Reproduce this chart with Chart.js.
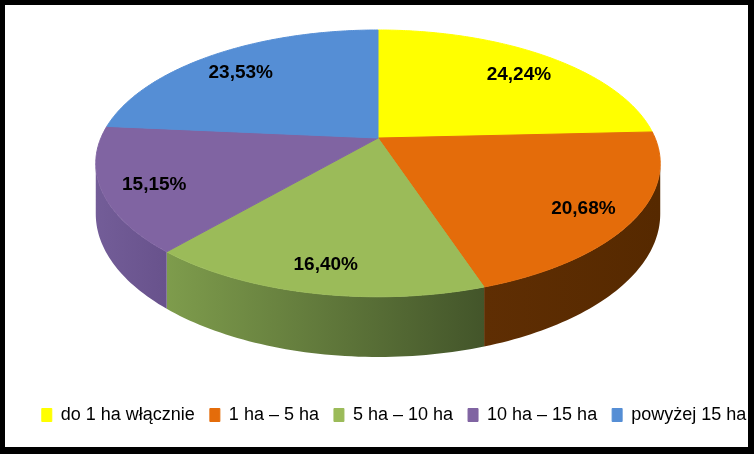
<!DOCTYPE html>
<html>
<head>
<meta charset="utf-8">
<script src="https://cdn.jsdelivr.net/npm/chart.js@4.4.1/dist/chart.umd.min.js"></script>
<style>
  html, body { margin: 0; padding: 0; background: #000; }
  #wrap { width: 754px; height: 454px; }
</style>
</head>
<body>
<div id="wrap"><canvas id="myChart" width="754" height="454"></canvas></div>
<script>
// data
const categories = ['do 1 ha włącznie', '1 ha – 5 ha', '5 ha – 10 ha', '10 ha – 15 ha', 'powyżej 15 ha'];
const shares = [24.24, 20.68, 16.40, 15.15, 23.53];

const topColors = ['#FFFF00', '#E46C0A', '#9BBB59', '#8064A2', '#558ED5'];
// side wall shading, light (left) -> dark (right)
const sideColors = [
    ['#A6A600', '#7F7F00'],
    ['#5F2E03', '#562900'],
    ['#7E9C4C', '#43552A'],
    ['#735D98', '#68528C'],
    ['#3F6BA3', '#30578A']
];

const FONT = '"Liberation Sans", Arial, sans-serif';
const TILT = 0.19; // perspective strength

const fmt = v => v.toFixed(2).replace('.', ',') + '%';

// maps the library's flat circle onto a tilted disc seen in perspective
function makeProjection(chart) {
    const a0 = chart.getDatasetMeta(0).data[0];
    const A = chart.width * 0.3675;
    const B = A * 0.464;
    const vx = chart.width / 2 + 1;
    const vy = chart.chartArea.top + B / (1 + TILT);
    const depth = A * 0.176;
    const R = a0.outerRadius;
    const P = (x, y) => {
        const u = (x - a0.x) / R, w = (y - a0.y) / R;
        const s = 1 / (1 - TILT * w);
        return [vx + A * u * s, vy + B * w * s];
    };
    const drop = a => depth / (1 - TILT * Math.sin(a));
    return { P, drop, a0, R };
}

// pieces of [s, e] on the visible front of the rim
function frontParts(s, e) {
    const parts = [];
    const f1 = Math.asin(TILT), f2 = Math.PI - Math.asin(TILT);
    for (const k of [-2 * Math.PI, 0, 2 * Math.PI]) {
        const lo = Math.max(s, k + f1), hi = Math.min(e, k + f2);
        if (hi > lo) parts.push([lo, hi]);
    }
    return parts;
}

const pie3d = {
    id: 'pie3d',
    beforeDraw(chart) {
        const ctx = chart.ctx;
        ctx.save();
        ctx.fillStyle = '#000';
        ctx.fillRect(0, 0, chart.width, chart.height);
        ctx.fillStyle = '#fff';
        ctx.fillRect(5, 5, chart.width - 11, chart.height - 12);
        ctx.restore();
    },
    afterLayout(chart) {
        // legend sits a bit right of centre in the original
        chart.legend.left += 17;
        chart.legend.right += 17;
    },
    beforeDatasetsDraw(chart) {
        const ctx = chart.ctx;
        const arcs = chart.getDatasetMeta(0).data;
        const pr = makeProjection(chart);
        chart.$pie = pr;
        const { P, drop, a0, R } = pr;

        // side walls
        arcs.forEach((arc, i) => {
            frontParts(arc.startAngle, arc.endAngle).forEach(([lo, hi]) => {
                const n = Math.max(4, Math.ceil((hi - lo) / 0.02));
                const top = [], bot = [];
                for (let j = 0; j <= n; j++) {
                    const a = lo + (hi - lo) * j / n;
                    const p = P(a0.x + R * Math.cos(a), a0.y + R * Math.sin(a));
                    top.push(p);
                    bot.push([p[0], p[1] + drop(a)]);
                }
                const xs = top.map(p => p[0]);
                const g = ctx.createLinearGradient(Math.min(...xs), 0, Math.max(...xs), 0);
                g.addColorStop(0, sideColors[i][0]);
                g.addColorStop(1, sideColors[i][1]);
                ctx.beginPath();
                top.forEach((p, j) => j ? ctx.lineTo(p[0], p[1]) : ctx.moveTo(p[0], p[1]));
                for (let j = bot.length - 1; j >= 0; j--) ctx.lineTo(bot[j][0], bot[j][1]);
                ctx.closePath();
                ctx.fillStyle = g;
                ctx.fill();
            });
        });

        // route the library's path calls through the projection
        const proto = Object.getPrototypeOf(ctx);
        ctx.moveTo = function (x, y) { const p = P(x, y); proto.moveTo.call(this, p[0], p[1]); };
        ctx.lineTo = function (x, y) { const p = P(x, y); proto.lineTo.call(this, p[0], p[1]); };
        ctx.arc = function (x, y, r, s, e, ccw) {
            let d = e - s;
            if (!ccw && d < 0) d += 2 * Math.PI;
            if (ccw && d > 0) d -= 2 * Math.PI;
            const n = Math.max(4, Math.ceil(Math.abs(d) / 0.01));
            for (let j = 0; j <= n; j++) {
                const a = s + d * j / n;
                const p = P(x + r * Math.cos(a), y + r * Math.sin(a));
                proto.lineTo.call(this, p[0], p[1]);
            }
        };
    },
    afterDatasetsDraw(chart) {
        const ctx = chart.ctx;
        delete ctx.moveTo;
        delete ctx.lineTo;
        delete ctx.arc;
        const { P, a0, R } = chart.$pie;
        const arcs = chart.getDatasetMeta(0).data;
        ctx.save();
        ctx.font = 'bold 19px ' + FONT;
        ctx.fillStyle = '#000';
        ctx.textAlign = 'center';
        ctx.textBaseline = 'middle';
        arcs.forEach((arc, i) => {
            const mid = (arc.startAngle + arc.endAngle) / 2;
            const f = 0.82;
            const p = P(a0.x + f * R * Math.cos(mid), a0.y + f * R * Math.sin(mid));
            ctx.fillText(fmt(shares[i]), p[0], p[1] + 5);
        });
        ctx.restore();
    }
};

const ctx = document.getElementById('myChart').getContext('2d');
const myChart = new Chart(ctx, {
    type: 'pie',
    data: {
        labels: categories,
        datasets: [{
            data: shares,
            backgroundColor: topColors,
            borderColor: topColors,
            borderWidth: 1
        }]
    },
    options: {
        responsive: false,
        animation: false,
        devicePixelRatio: 1,
        events: [],
        layout: { padding: { top: 30, bottom: 20, left: 5, right: 5 } },
        plugins: {
            legend: {
                position: 'bottom',
                labels: {
                    boxWidth: 10,
                    boxHeight: 13,
                    padding: 15,
                    color: '#000',
                    font: { family: FONT, size: 18 }
                }
            },
            tooltip: { enabled: false }
        }
    },
    plugins: [pie3d]
});
</script>
</body>
</html>
